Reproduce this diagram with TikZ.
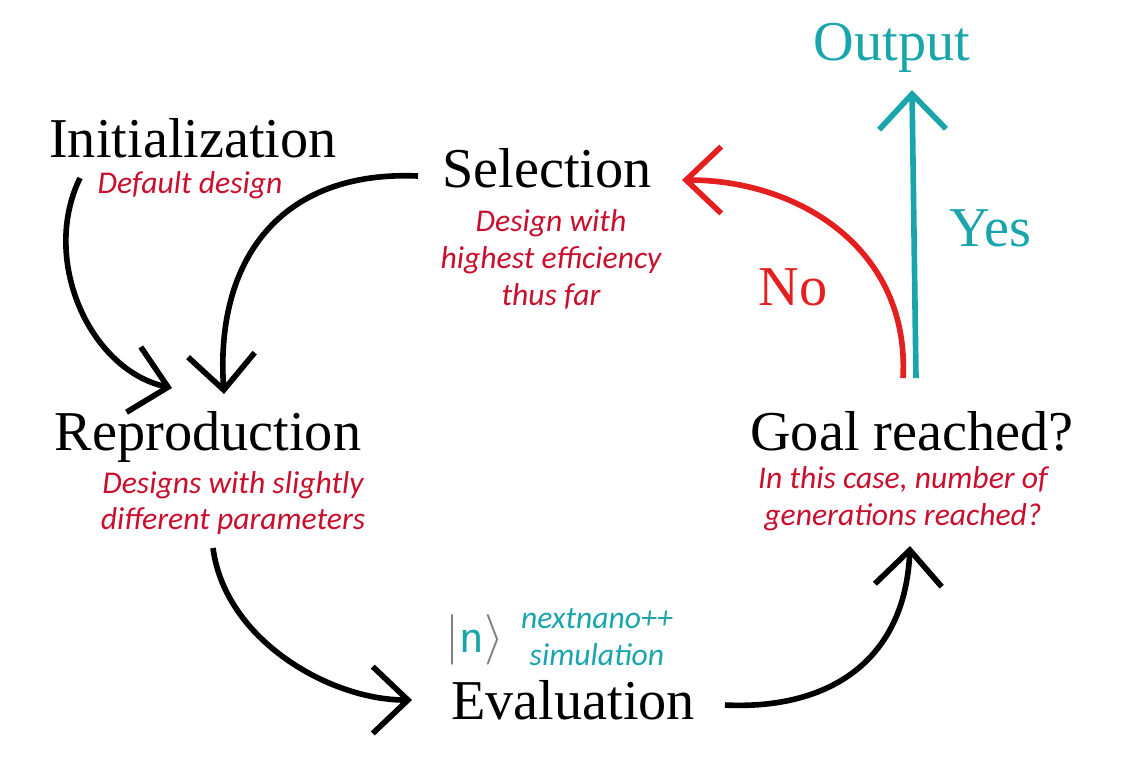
\documentclass[tikz,border=0pt]{standalone}
\usepackage{fontspec}
\setmainfont{Liberation Serif}
\newfontfamily\notefont{Carlito}
\usetikzlibrary{arrows.meta}
\definecolor{notered}{HTML}{C8102E}
\definecolor{arrowred}{HTML}{E3201F}
\definecolor{nanoteal}{HTML}{1AA5AC}
\tikzset{
  stage/.style={font=\fontsize{16}{18}\selectfont},
  note/.style={font=\notefont\itshape\fontsize{9}{10.5}\selectfont, text=notered, align=center},
  flow/.style={line width=1.6pt, -{Straight Barb[length=10pt,width=19pt,line width=1.6pt]}}
}
\begin{document}
\begin{tikzpicture}[x=0.01cm,y=-0.01cm]
\useasboundingbox (0,0) rectangle (1125,759);

\node[stage] (init) at (193,138) {Initialization};
\node[note] (initnote) at (190,185) {Default design};

\node[stage] (sel) at (547,168) {Selection};
\node[note] (selnote) at (551,259) {Design with\\highest efficiency\\thus far};

\node[stage] (repr) at (208,437) {Reproduction};
\node[note] (reprnote) at (233,503) {Designs with slightly\\different parameters};

\node[stage] (goal) at (912,431) {Goal reached?};
\node[note] (goalnote) at (903,499) {In this case, number of\\generations reached?};

\node[stage] (eval) at (573,700) {Evaluation};
\node[note, text=nanoteal] (simnote) at (597,637) {nextnano++\\simulation};
\node (logo) at (475,640) {\fontsize{14}{16}\selectfont\textcolor{gray}{$|$}\textcolor{nanoteal}{\sffamily n}\textcolor{gray}{$\rangle$}};

\node[stage, text=nanoteal] (out) at (892,48) {Output};
\node[stage, text=nanoteal] (yes) at (990,228) {Yes};
\node[stage, text=arrowred] (no) at (793,287) {No};

% connectors
\coordinate (a1) at (80,178);   \coordinate (b1) at (172,388);
\coordinate (a2) at (418,176);  \coordinate (b2) at (224,394);
\coordinate (a3) at (213,548);  \coordinate (b3) at (412,700);
\coordinate (a4) at (725,705);  \coordinate (b4) at (910,546);
\coordinate (a5) at (903,378);  \coordinate (b5) at (682,180);
\coordinate (a6) at (916,378);  \coordinate (b6) at (912,90);

\draw[flow] (a1) .. controls (40,260) and (90,370) .. (b1);
\draw[flow] (a2) .. controls (280,170) and (215,260) .. (b2);
\draw[flow] (a3) .. controls (225,640) and (330,700) .. (b3);
\draw[flow] (a4) .. controls (830,710) and (905,660) .. (b4);
\draw[flow, arrowred] (a5) .. controls (910,250) and (800,180) .. (b5);
\draw[flow, nanoteal] (a6) -- (b6);
\end{tikzpicture}
\end{document}
